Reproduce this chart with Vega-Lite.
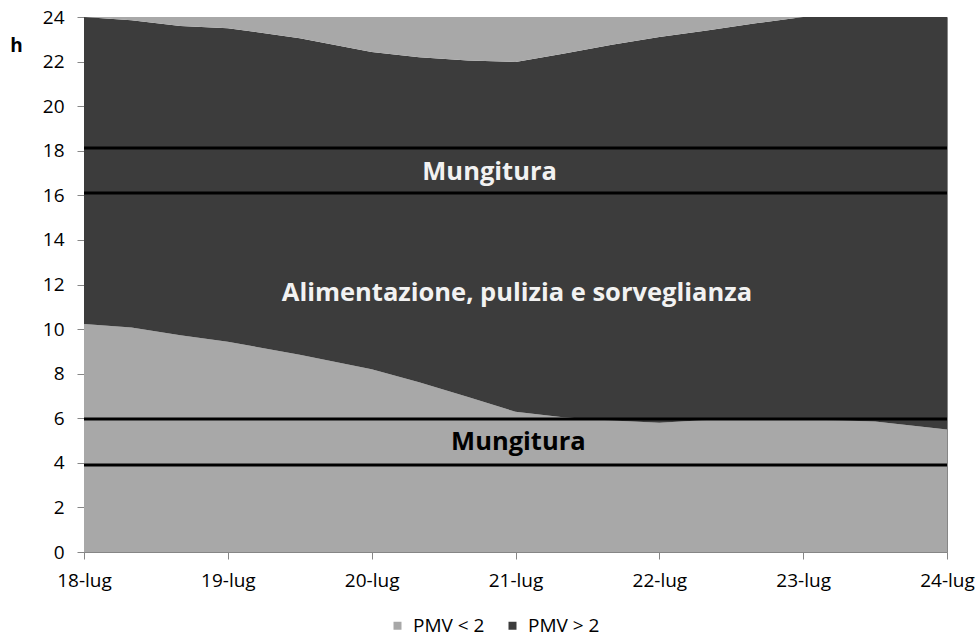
{
  "$schema": "https://vega.github.io/schema/vega-lite/v6.json",
  "width": 863,
  "height": 535,
  "autosize": {"type": "none"},
  "padding": {"left": 84, "top": 17, "right": 30, "bottom": 87},
  "background": "white",
  "config": {
    "font": "Open Sans",
    "view": {"stroke": "#868686", "strokeWidth": 1},
    "axis": {"domainColor": "#868686", "tickColor": "#868686", "labelColor": "#000000", "labelFont": "Open Sans", "labelFontSize": 19, "grid": false}
  },
  "datasets": {
    "aree": [
      {"d": 18, "layer": 1, "pmv": "PMV < 2", "h": 10.23},
      {"d": 18.33, "layer": 1, "pmv": "PMV < 2", "h": 10.07},
      {"d": 18.67, "layer": 1, "pmv": "PMV < 2", "h": 9.72},
      {"d": 19, "layer": 1, "pmv": "PMV < 2", "h": 9.43},
      {"d": 19.5, "layer": 1, "pmv": "PMV < 2", "h": 8.85},
      {"d": 20, "layer": 1, "pmv": "PMV < 2", "h": 8.2},
      {"d": 20.33, "layer": 1, "pmv": "PMV < 2", "h": 7.62},
      {"d": 20.67, "layer": 1, "pmv": "PMV < 2", "h": 6.95},
      {"d": 21, "layer": 1, "pmv": "PMV < 2", "h": 6.29},
      {"d": 21.33, "layer": 1, "pmv": "PMV < 2", "h": 6.05},
      {"d": 21.67, "layer": 1, "pmv": "PMV < 2", "h": 5.9},
      {"d": 22, "layer": 1, "pmv": "PMV < 2", "h": 5.8},
      {"d": 22.33, "layer": 1, "pmv": "PMV < 2", "h": 5.92},
      {"d": 22.67, "layer": 1, "pmv": "PMV < 2", "h": 5.95},
      {"d": 23, "layer": 1, "pmv": "PMV < 2", "h": 5.95},
      {"d": 23.5, "layer": 1, "pmv": "PMV < 2", "h": 5.85},
      {"d": 24, "layer": 1, "pmv": "PMV < 2", "h": 5.5},

      {"d": 18, "layer": 2, "pmv": "PMV > 2", "h": 13.77},
      {"d": 18.33, "layer": 2, "pmv": "PMV > 2", "h": 13.78},
      {"d": 18.67, "layer": 2, "pmv": "PMV > 2", "h": 13.88},
      {"d": 19, "layer": 2, "pmv": "PMV > 2", "h": 14.07},
      {"d": 19.5, "layer": 2, "pmv": "PMV > 2", "h": 14.2},
      {"d": 20, "layer": 2, "pmv": "PMV > 2", "h": 14.23},
      {"d": 20.33, "layer": 2, "pmv": "PMV > 2", "h": 14.58},
      {"d": 20.67, "layer": 2, "pmv": "PMV > 2", "h": 15.1},
      {"d": 21, "layer": 2, "pmv": "PMV > 2", "h": 15.69},
      {"d": 21.33, "layer": 2, "pmv": "PMV > 2", "h": 16.3},
      {"d": 21.67, "layer": 2, "pmv": "PMV > 2", "h": 16.85},
      {"d": 22, "layer": 2, "pmv": "PMV > 2", "h": 17.3},
      {"d": 22.33, "layer": 2, "pmv": "PMV > 2", "h": 17.48},
      {"d": 22.67, "layer": 2, "pmv": "PMV > 2", "h": 17.77},
      {"d": 23, "layer": 2, "pmv": "PMV > 2", "h": 18.05},
      {"d": 23.5, "layer": 2, "pmv": "PMV > 2", "h": 18.15},
      {"d": 24, "layer": 2, "pmv": "PMV > 2", "h": 18.5},

      {"d": 18, "layer": 3, "pmv": "PMV < 2", "h": 0},
      {"d": 18.33, "layer": 3, "pmv": "PMV < 2", "h": 0.15},
      {"d": 18.67, "layer": 3, "pmv": "PMV < 2", "h": 0.4},
      {"d": 19, "layer": 3, "pmv": "PMV < 2", "h": 0.5},
      {"d": 19.5, "layer": 3, "pmv": "PMV < 2", "h": 0.95},
      {"d": 20, "layer": 3, "pmv": "PMV < 2", "h": 1.57},
      {"d": 20.33, "layer": 3, "pmv": "PMV < 2", "h": 1.8},
      {"d": 20.67, "layer": 3, "pmv": "PMV < 2", "h": 1.95},
      {"d": 21, "layer": 3, "pmv": "PMV < 2", "h": 2.02},
      {"d": 21.33, "layer": 3, "pmv": "PMV < 2", "h": 1.65},
      {"d": 21.67, "layer": 3, "pmv": "PMV < 2", "h": 1.25},
      {"d": 22, "layer": 3, "pmv": "PMV < 2", "h": 0.9},
      {"d": 22.33, "layer": 3, "pmv": "PMV < 2", "h": 0.6},
      {"d": 22.67, "layer": 3, "pmv": "PMV < 2", "h": 0.28},
      {"d": 23, "layer": 3, "pmv": "PMV < 2", "h": 0},
      {"d": 23.5, "layer": 3, "pmv": "PMV < 2", "h": 0},
      {"d": 24, "layer": 3, "pmv": "PMV < 2", "h": 0}
    ]
  },
  "layer": [
    {
      "data": {"name": "aree"},
      "mark": {"type": "area", "interpolate": "linear"},
      "encoding": {
        "x": {"field": "d", "type": "quantitative", "scale": {"domain": [18, 24], "nice": false, "zero": false},
              "axis": {"values": [18, 19, 20, 21, 22, 23, 24], "labelExpr": "datum.value + '-lug'", "title": null, "tickSize": 7, "labelPadding": 12, "labelFlush": false}},
        "y": {"field": "h", "type": "quantitative", "stack": "zero", "scale": {"domain": [0, 24], "nice": false},
              "axis": {"values": [0, 2, 4, 6, 8, 10, 12, 14, 16, 18, 20, 22, 24], "tickSize": 7, "labelPadding": 13, "title": "h", "titleAngle": 0, "titleX": -68, "titleY": 28, "titleAlign": "center", "titleBaseline": "middle", "titleFont": "Open Sans", "titleFontSize": 19, "titleFontWeight": "bold", "titleColor": "#000000"}},
        "color": {"field": "pmv", "type": "nominal", "scale": {"domain": ["PMV < 2", "PMV > 2"], "range": ["#a8a8a8", "#3c3c3c"]},
                  "legend": {"title": null, "orient": "none", "direction": "horizontal", "legendX": 304, "legendY": 599, "symbolType": "square", "symbolSize": 64, "symbolStrokeWidth": 0, "labelFontSize": 19, "labelFont": "Open Sans", "labelColor": "#000000", "labelOffset": 6, "columnPadding": 18}},
        "detail": {"field": "layer", "type": "nominal"},
        "order": {"field": "layer", "type": "quantitative"}
      }
    },
    {
      "data": {"values": [{"h": 3.9}, {"h": 5.97}, {"h": 16.1}, {"h": 18.12}]},
      "mark": {"type": "rule", "color": "#000000", "strokeWidth": 3},
      "encoding": {"y": {"field": "h", "type": "quantitative"}}
    },
    {
      "data": {"values": [{"d": 20.82, "h": 17.05, "t": "Mungitura"}, {"d": 21.01, "h": 11.62, "t": "Alimentazione, pulizia e sorveglianza"}]},
      "mark": {"type": "text", "color": "#f2f2f2", "fontWeight": "bold", "fontSize": 25.5, "font": "Open Sans", "align": "center", "baseline": "middle"},
      "encoding": {"x": {"field": "d", "type": "quantitative"}, "y": {"field": "h", "type": "quantitative"}, "text": {"field": "t"}}
    },
    {
      "data": {"values": [{"d": 21.02, "h": 4.95, "t": "Mungitura"}]},
      "mark": {"type": "text", "color": "#000000", "fontWeight": "bold", "fontSize": 25.5, "font": "Open Sans", "align": "center", "baseline": "middle"},
      "encoding": {"x": {"field": "d", "type": "quantitative"}, "y": {"field": "h", "type": "quantitative"}, "text": {"field": "t"}}
    }
  ]
}
